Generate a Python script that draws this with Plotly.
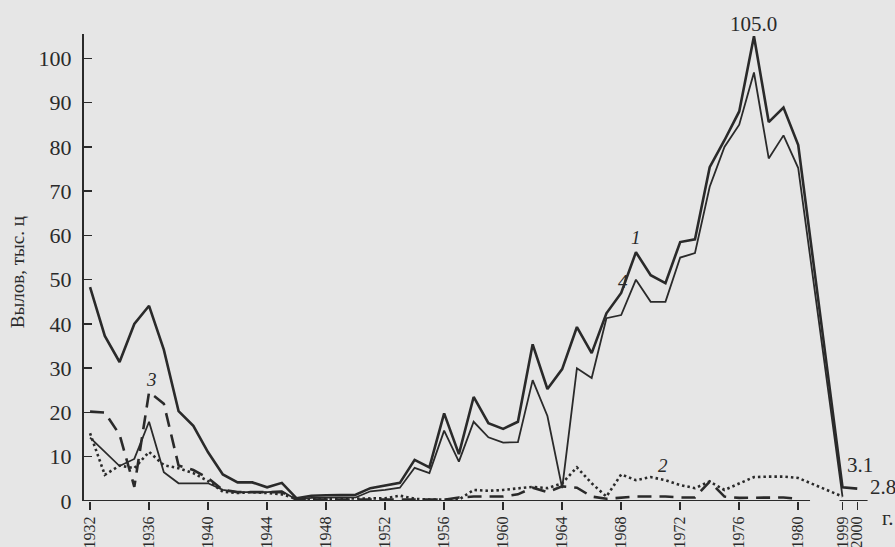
import plotly.graph_objects as go

# ---- data ----
years_main = [str(y) for y in range(1932, 1981)]
years_tail = ["1999", "2000"]

# series 1: total (upper solid)
s1_main = [48.3, 37.3, 31.4, 40.0, 44.1, 34.2, 20.3, 17.0, 11.0, 6.0,
           4.2, 4.2, 3.1, 4.1, 0.6, 1.2, 1.3, 1.3, 1.4, 2.9,
           3.5, 4.1, 9.3, 7.6, 19.8, 10.6, 23.5, 17.6, 16.3, 17.9,
           35.4, 25.3, 29.8, 39.3, 33.4, 42.4, 47.0, 56.2, 51.0, 49.2,
           58.5, 59.1, 75.4, 81.5, 88.0, 105.0, 85.6, 88.9, 80.4]
s1_tail = [3.1, 2.8]

# series 4: lower solid
s4_main = [14.3, 11.2, 7.9, 9.5, 17.9, 6.5, 4.0, 4.0, 4.0, 2.5,
           2.0, 2.0, 2.0, 2.2, 0.3, 0.7, 0.8, 0.8, 0.8, 2.2,
           2.5, 3.0, 7.5, 6.3, 15.9, 8.9, 17.9, 14.4, 13.2, 13.3,
           27.3, 19.2, 2.9, 30.0, 27.8, 41.3, 42.0, 50.0, 45.0, 45.0,
           55.0, 56.0, 71.0, 80.0, 85.0, 96.8, 77.4, 82.6, 75.2]
s4_tail = [1.0]

# series 2: dotted
s2_main = [15.3, 5.9, 8.0, 7.4, 11.1, 8.1, 7.4, 6.3, 4.5, 2.1,
           1.8, 2.0, 1.8, 1.5, 0.5, 0.5, 0.6, 0.6, 0.5, 0.5,
           0.6, 1.2, 0.5, 0.3, 0.3, 0.3, 2.5, 2.3, 2.5, 2.9,
           3.2, 2.9, 4.0, 7.6, 4.0, 1.0, 6.0, 4.7, 5.4, 4.7,
           3.6, 2.9, 4.4, 2.5, 4.0, 5.4, 5.5, 5.5, 5.2]
s2_tail = [1.0]

# series 3: dashed
s3_main = [20.2, 20.0, 15.0, 3.2, 24.6, 22.0, 8.0, 7.0, 5.2, 2.5,
           2.0, 2.0, 2.0, 2.0, 0.3, 0.3, 0.3, 0.3, 0.3, 0.3,
           0.3, 0.3, 0.3, 0.3, 0.3, 0.8, 1.0, 1.0, 1.0, 1.5,
           3.0, 2.0, 3.3, 3.0, 1.0, 0.5, 0.8, 1.0, 1.0, 1.0,
           0.8, 0.8, 4.4, 1.0, 0.7, 0.7, 0.8, 0.8, 0.5]

tick_years = [str(y) for y in range(1932, 1981, 4)] + ["1999", "2000"]
categories = [str(y) for y in range(1932, 1982)] + ["gap", "1999", "2000"]


def cx(label):
    return categories.index(label)


INK = "#2a2a2a"
BG = "#e6e6e6"
SERIF = "Liberation Serif"

fig = go.Figure()
fig.add_trace(go.Scatter(x=years_main + years_tail, y=s1_main + s1_tail, mode="lines",
                         line=dict(color=INK, width=2.6), name="1"))
fig.add_trace(go.Scatter(x=years_main + years_tail[:1], y=s4_main + s4_tail, mode="lines",
                         line=dict(color=INK, width=1.8), name="4"))
fig.add_trace(go.Scatter(x=years_main + years_tail[:1], y=s2_main + s2_tail, mode="lines",
                         line=dict(color=INK, width=2.6, dash="2.5px,3px"), name="2"))
fig.add_trace(go.Scatter(x=years_main, y=s3_main, mode="lines",
                         line=dict(color=INK, width=2.6, dash="14px,8px"), name="3"))

# broken x-axis baseline
for x0, x1 in [(-0.41, 48.8), (50.8, 52.7)]:
    fig.add_shape(type="line", xref="x", yref="y", x0=x0, x1=x1, y0=0, y1=0,
                  line=dict(color=INK, width=2))

ann_font = dict(family=SERIF, size=21, color=INK)
ital_font = dict(family=SERIF, size=19, color=INK, style="italic")
fig.add_annotation(x=cx("1977"), y=105, text="105.0", showarrow=False, yshift=12, font=ann_font)
fig.add_annotation(x=cx("1969"), y=56.2, text="1", showarrow=False, yshift=15, font=ital_font)
fig.add_annotation(x=cx("1968"), y=49.5, text="4", showarrow=False, xshift=2, font=ital_font)
fig.add_annotation(x=cx("1971"), y=8.1, text="2", showarrow=False, xshift=-2, font=ital_font)
fig.add_annotation(x=cx("1936"), y=27.5, text="3", showarrow=False, xshift=2, font=ital_font)
for px_x, px_y, txt in [(0.985, 0.077, "3.1"), (1.014, 0.030, "2.8"), (1.020, -0.036, "г.")]:
    fig.add_annotation(xref="paper", yref="paper", x=px_x, y=px_y, text=txt, showarrow=False,
                       xanchor="center", yanchor="middle", font=ann_font)
fig.add_annotation(xref="paper", yref="paper", x=-0.085, y=0.49, text="Вылов, тыс. ц",
                   xanchor="center", yanchor="middle",
                   textangle=-90, showarrow=False, font=dict(family=SERIF, size=19, color=INK))

fig.update_layout(
    width=895, height=547,
    margin=dict(l=84, r=23, t=34, b=46),
    paper_bgcolor=BG, plot_bgcolor=BG,
    showlegend=False,
    font=dict(family=SERIF, color=INK),
    xaxis=dict(type="category", categoryorder="array", categoryarray=categories,
               range=[-0.41, 53.0], tickmode="array", tickvals=tick_years, ticktext=tick_years,
               tickangle=-90, ticks="outside", ticklen=8, tickwidth=1.5, tickcolor=INK,
               tickfont=dict(family=SERIF, size=16, color=INK), automargin=False,
               showline=False, showgrid=False, zeroline=False),
    yaxis=dict(range=[0, 105.5], tickvals=list(range(0, 101, 10)),
               ticks="inside", ticklen=8, tickwidth=1.5, tickcolor=INK,
               ticklabelstandoff=6,
               tickfont=dict(family=SERIF, size=22, color=INK), automargin=False,
               showline=True, linecolor=INK, linewidth=2,
               showgrid=False, zeroline=False),
)

fig.write_html("out.html",
               config={"displayModeBar": False, "staticPlot": True},
               post_script="document.body.style.margin='0';"
                           "document.body.style.background='#e6e6e6';"
                           "document.body.style.overflow='hidden';")
